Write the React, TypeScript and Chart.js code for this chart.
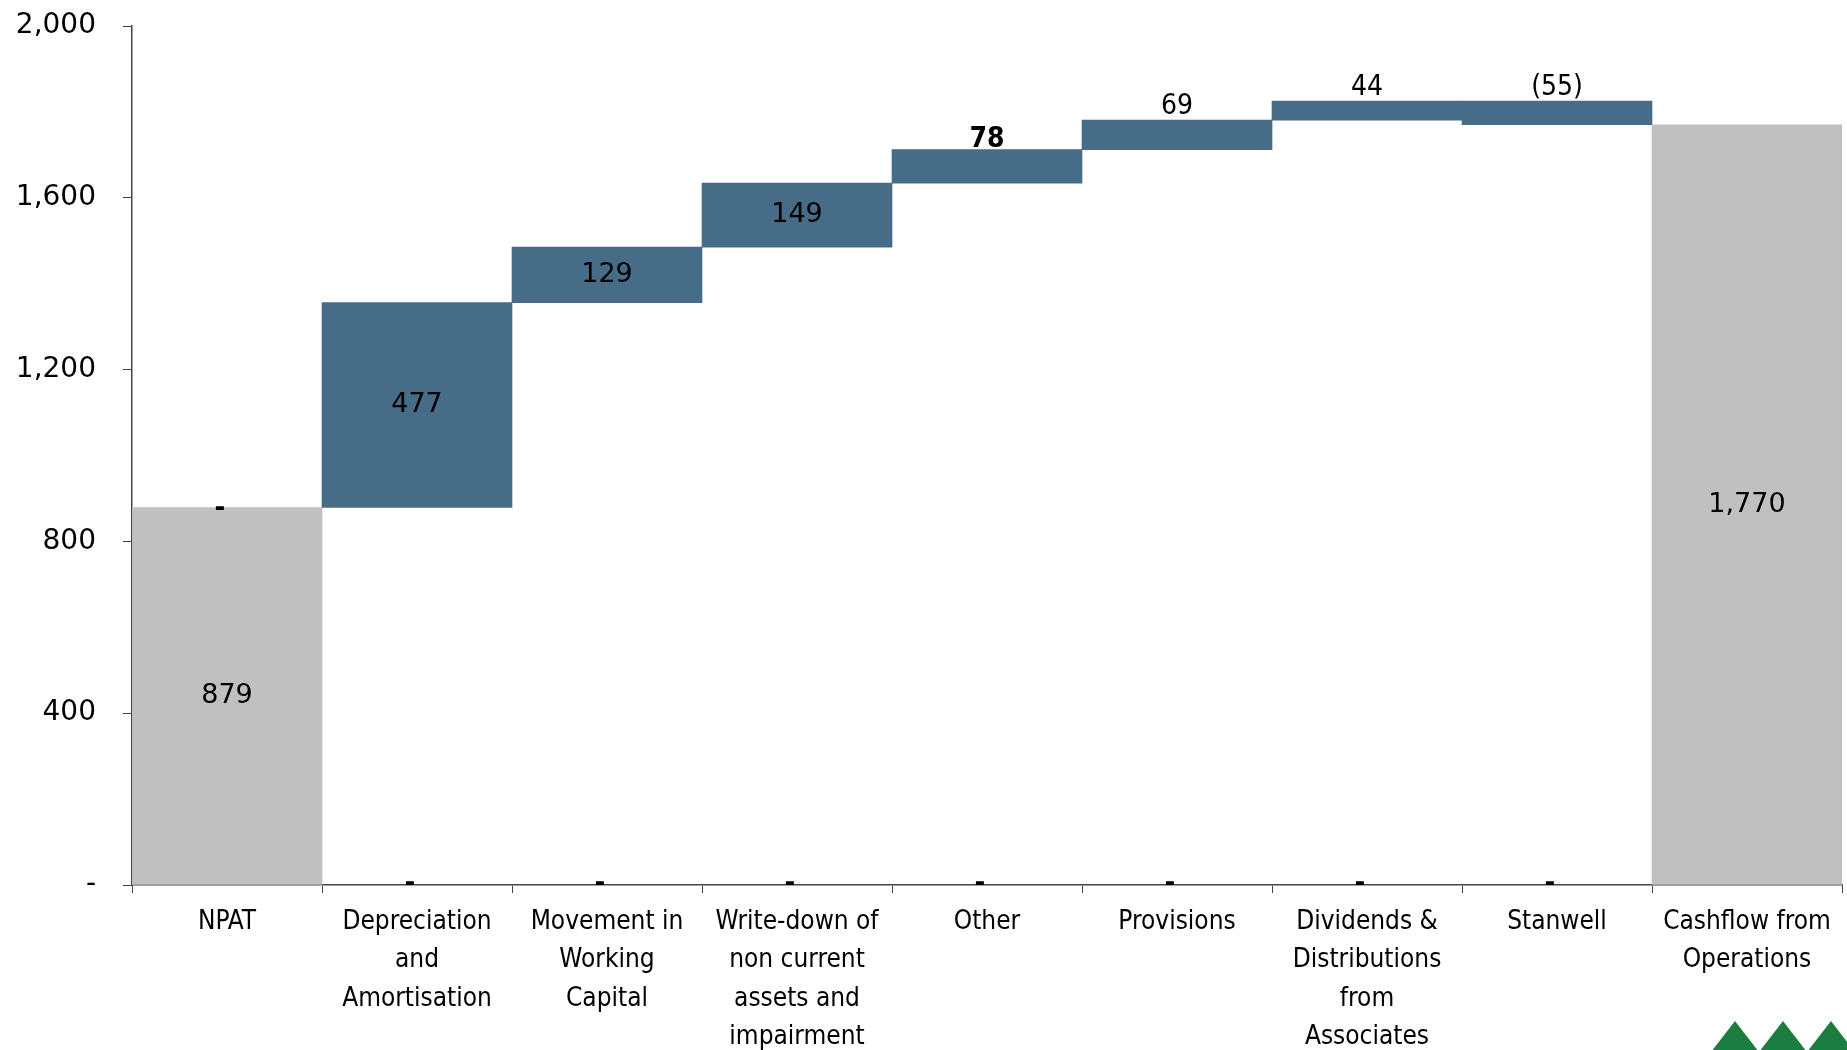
import React, { useEffect, useRef } from "react";
import { Chart, registerables } from "chart.js";

Chart.register(...registerables);

const categories: string[][] = [
  ["NPAT"],
  ["Depreciation", "and", "Amortisation"],
  ["Movement in", "Working", "Capital"],
  ["Write-down of", "non current", "assets and", "impairment"],
  ["Other"],
  ["Provisions"],
  ["Dividends &", "Distributions", "from", "Associates"],
  ["Stanwell"],
  ["Cashflow from", "Operations"],
];
const barStarts = [0, 879, 1356, 1485, 1634, 1712, 1781, 1825, 0];
const barEnds = [879, 1356, 1485, 1634, 1712, 1781, 1825, 1770, 1770];
const barKinds = ["total", "step", "step", "step", "step", "step", "step", "step", "total"];
const valueLabels = ["879", "477", "129", "149", "78", "69", "44", "(55)", "1,770"];
const labelInside = [true, true, true, true, false, false, false, false, true];
const labelBold = [false, false, false, false, true, false, false, false, false];
const dashValues: (number | null)[] = [879, 0, 0, 0, 0, 0, 0, 0, null];
const yMin = 0;
const yMax = 2000;
const yStep = 400;

const GREY = "#C0C0C0";
const BLUE = "#466C87";
const AXIS = "#444444";

const labelPlugin = {
  id: "wfLabels",
  afterDatasetsDraw(chart: any) {
    const ctx = chart.ctx;
    const meta = chart.getDatasetMeta(0);
    const xs = chart.scales.x;
    const ys = chart.scales.y;
    ctx.save();
    ctx.fillStyle = "#000";
    meta.data.forEach((bar: any, i: number) => {
      const top = Math.min(bar.y, bar.base);
      const bottom = Math.max(bar.y, bar.base);
      if (labelInside[i]) {
        ctx.font = "27px 'DejaVu Sans'";
        ctx.textAlign = "center";
        ctx.textBaseline = "middle";
        ctx.fillText(valueLabels[i], bar.x, (top + bottom) / 2);
      } else {
        ctx.font = (labelBold[i] ? "bold " : "") + "28px 'DejaVu Sans Condensed'";
        ctx.textAlign = "center";
        ctx.textBaseline = "alphabetic";
        ctx.fillText(valueLabels[i], bar.x, top - (labelBold[i] ? 3 : 6));
      }
    });
    // "-" labels of zero-valued helper series
    ctx.font = "bold 26px 'DejaVu Sans'";
    ctx.textAlign = "center";
    ctx.textBaseline = "middle";
    dashValues.forEach((v, i) => {
      if (v === null) return;
      const x = xs.getPixelForValue(i) - 7;
      const y = ys.getPixelForValue(v);
      ctx.fillText("-", x, y + (i === 0 ? 2 : -1));
    });
    ctx.restore();
  },
  afterDraw(chart: any) {
    // corner logo (decorative)
    const ctx = chart.ctx;
    ctx.save();
    ctx.fillStyle = "#1B7D40";
    [1735, 1783, 1831].forEach((cx) => {
      ctx.beginPath();
      ctx.moveTo(cx, 1021);
      ctx.lineTo(cx + 24, 1052);
      ctx.lineTo(cx - 24, 1052);
      ctx.closePath();
      ctx.fill();
    });
    ctx.restore();
  },
};

export default function App() {
  const ref = useRef<HTMLCanvasElement | null>(null);
  useEffect(() => {
    if (!ref.current) return;
    const chart = new Chart(ref.current, {
      type: "bar",
      data: {
        labels: categories,
        datasets: [
          {
            label: "Cashflow",
            data: barStarts.map((s, i) => [s, barEnds[i]]) as any,
            backgroundColor: barKinds.map((k) => (k === "total" ? GREY : BLUE)),
            borderWidth: 0,
            categoryPercentage: 1,
            barPercentage: 1,
          },
        ],
      },
      options: {
        animation: false,
        responsive: false,
        layout: { padding: { top: 26, right: 5, left: 0, bottom: 0 } },
        plugins: { legend: { display: false }, tooltip: { enabled: false } },
        scales: {
          x: {
            grid: {
              offset: true,
              drawOnChartArea: false,
              tickLength: 8,
              color: AXIS,
              lineWidth: 1,
            },
            border: { color: AXIS, width: 1.5 },
            ticks: {
              color: "#000",
              padding: 10,
              maxRotation: 0,
              autoSkip: false,
              font: { family: "'DejaVu Sans Condensed'", size: 26, lineHeight: 1.48 },
            },
            afterFit(scale: any) {
              scale.height = 165;
            },
          },
          y: {
            min: yMin,
            max: yMax,
            grid: { drawOnChartArea: false, tickLength: 9, color: AXIS, lineWidth: 1 },
            border: { color: AXIS, width: 1.5 },
            ticks: {
              stepSize: yStep,
              color: "#000",
              padding: 27,
              font: { family: "'DejaVu Sans'", size: 28 },
              callback: (v: any) => (Number(v) === 0 ? "-" : Number(v).toLocaleString("en-US")),
            },
            afterFit(scale: any) {
              scale.width = 132;
              scale.paddingTop = 0;
              scale.paddingBottom = 0;
            },
          },
        },
      },
      plugins: [labelPlugin],
    });
    return () => chart.destroy();
  }, []);
  return (
    <div style={{ position: "absolute", left: 0, top: 0, width: 1847, height: 1050, background: "#fff" }}>
      <canvas ref={ref} width={1847} height={1050} />
    </div>
  );
}
